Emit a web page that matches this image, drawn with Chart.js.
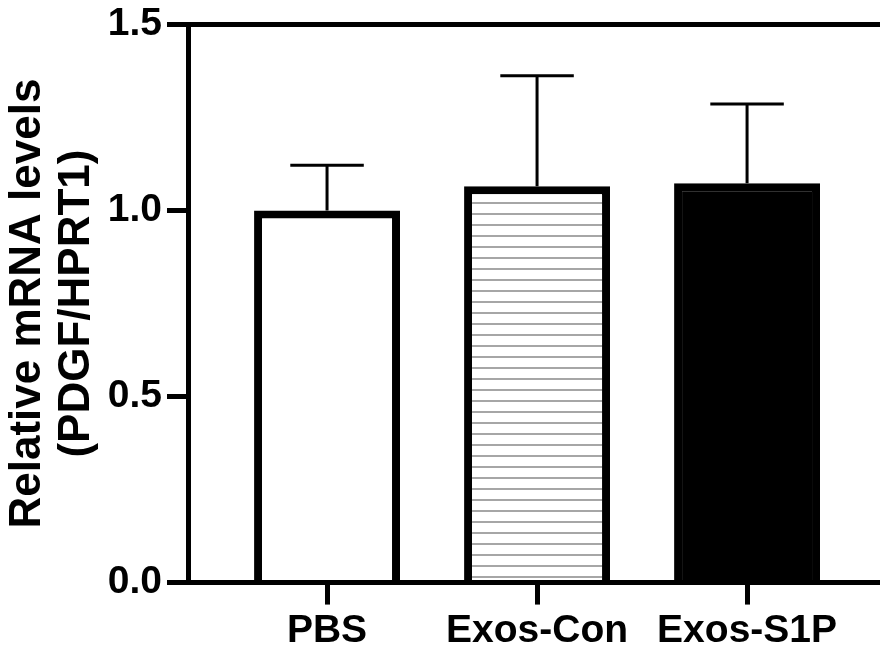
<!DOCTYPE html>
<html>
<head>
<meta charset="utf-8">
<script src="https://cdn.jsdelivr.net/npm/chart.js@4"></script>
<style>
  html, body { margin: 0; padding: 0; background: #fff; overflow: hidden; }
  #wrap { width: 880px; height: 657px; }
</style>
</head>
<body>
<div id="wrap"><canvas id="chart"></canvas></div>
<script>
// data
const categories = ['PBS', 'Exos-Con', 'Exos-S1P'];
const positions = [1, 2, 3];
const means = [1.0, 1.065, 1.073];
const errors = [0.122, 0.297, 0.213];
const yTicks = [0, 0.5, 1.0, 1.5];

// horizontal stripe fill for Exos-Con
function stripes() {
  const c = document.createElement('canvas');
  c.width = 8; c.height = 11;
  const g = c.getContext('2d');
  g.fillStyle = '#ffffff';
  g.fillRect(0, 0, 8, 11);
  g.fillStyle = '#a6a6a6';
  g.fillRect(0, 4, 8, 2);
  return g.createPattern(c, 'repeat');
}

const fills = ['#ffffff', stripes(), '#000000'];

// upper-only error bars
const errorBars = {
  id: 'errorBars',
  afterDatasetsDraw(chart) {
    const { ctx, scales } = chart;
    ctx.save();
    ctx.strokeStyle = '#000';
    ctx.lineWidth = 3;
    positions.forEach((p, i) => {
      const x = scales.x.getPixelForValue(p);
      const y0 = scales.y.getPixelForValue(means[i]);
      const y1 = scales.y.getPixelForValue(means[i] + errors[i]);
      const half = scales.x.getPixelForValue(p + 0.175) - x;
      ctx.beginPath();
      ctx.moveTo(x, y0);
      ctx.lineTo(x, y1);
      ctx.moveTo(x - half, y1);
      ctx.lineTo(x + half, y1);
      ctx.stroke();
    });
    ctx.restore();
  }
};

const family = '"Liberation Sans", Arial, sans-serif';

new Chart(document.getElementById('chart'), {
  type: 'bar',
  data: {
    datasets: [{
      data: positions.map((p, i) => ({ x: p, y: means[i] })),
      backgroundColor: fills,
      borderColor: '#000',
      borderWidth: 8,
      borderSkipped: 'bottom',
      categoryPercentage: 1,
      barPercentage: 0.695
    }]
  },
  options: {
    responsive: true,
    maintainAspectRatio: false,
    animation: false,
    layout: { padding: { top: 3, left: 0, right: 0, bottom: 0 } },
    plugins: { legend: { display: false }, tooltip: { enabled: false } },
    scales: {
      x: {
        type: 'linear',
        offset: false,
        min: 0.338,
        max: 3.633,
        afterBuildTicks: scale => { scale.ticks = positions.map(v => ({ value: v })); },
        ticks: {
          autoSkip: false,
          maxRotation: 0,
          padding: 11,
          color: '#000',
          font: { family, size: 39, weight: 'bold', lineHeight: 0.78 },
          callback: (v, i) => categories[i]
        },
        grid: { offset: false, drawOnChartArea: false, tickLength: 22, tickColor: '#000', lineWidth: 5 },
        border: { color: '#000', width: 5 }
      },
      y: {
        min: 0,
        max: 1.5,
        afterBuildTicks: scale => { scale.ticks = yTicks.map(v => ({ value: v })); },
        ticks: {
          padding: 5,
          color: '#000',
          font: { family, size: 39, weight: 'bold', lineHeight: 1 },
          callback: v => v.toFixed(1)
        },
        grid: {
          color: c => (c.tick && c.tick.value === 1.5 ? '#000' : 'rgba(0,0,0,0)'),
          tickColor: '#000',
          tickLength: 21,
          lineWidth: 5
        },
        border: { color: '#000', width: 5 },
        title: {
          display: true,
          text: ['Relative mRNA levels', '(PDGF/HPRT1)'],
          color: '#000',
          font: { family, size: 44, weight: 'bold', lineHeight: 1.1 },
          padding: { top: 4, bottom: 2 }
        }
      }
    }
  },
  plugins: [errorBars]
});
</script>
</body>
</html>
